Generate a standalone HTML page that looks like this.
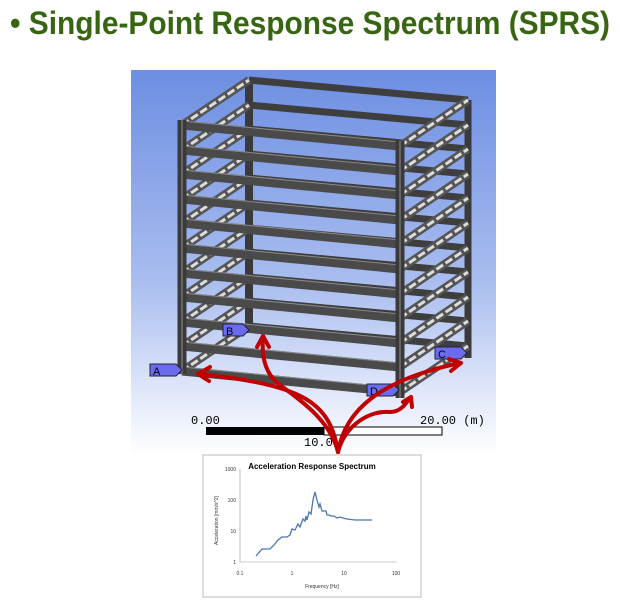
<!DOCTYPE html>
<html><head><style>body{margin:0;background:#fff;width:620px;height:604px;overflow:hidden}</style></head>
<body>
<svg width="620" height="604" xmlns="http://www.w3.org/2000/svg">
<defs>
<linearGradient id="bg" x1="0" y1="0" x2="0" y2="1">
<stop offset="0" stop-color="#6d8ee2"/><stop offset="0.55" stop-color="#a9bdef"/><stop offset="1" stop-color="#ffffff"/>
</linearGradient>
</defs>
<text x="10" y="34" font-family="Liberation Sans, sans-serif" font-weight="bold" font-size="32" fill="#376512" textLength="600" lengthAdjust="spacingAndGlyphs">• Single-Point Response Spectrum (SPRS)</text>
<rect x="131" y="70" width="365" height="385" fill="url(#bg)"/>
<g fill="none">
<line x1="249" y1="80" x2="249" y2="333" stroke="#3a3a3a" stroke-width="8"/>
<line x1="468" y1="100" x2="468" y2="358" stroke="#3a3a3a" stroke-width="7"/>
<path stroke="#3e3e3e" stroke-width="7" d="M249,80L468,100 M249,105L468,125 M249,129L468,149 M249,154L468,174 M249,178L468,198 M249,203L468,223 M249,228L468,248 M249,252L468,272 M249,277L468,297 M249,301L468,321 M249,326L468,346"/>
<path stroke="#555" stroke-width="8" d="M400,146L468,100 M400,171L468,125 M400,195L468,149 M400,220L468,174 M400,244L468,198 M400,269L468,223 M400,294L468,248 M400,318L468,272 M400,343L468,297 M400,367L468,321 M400,392L468,346"/>
<path stroke="#ddd" stroke-width="3" stroke-dasharray="8,3" d="M400,146L468,100 M400,171L468,125 M400,195L468,149 M400,220L468,174 M400,244L468,198 M400,269L468,223 M400,294L468,248 M400,318L468,272 M400,343L468,297 M400,367L468,321 M400,392L468,346"/>
<path stroke="#555" stroke-width="8" d="M182,125L249,80 M182,150L249,105 M182,174L249,129 M182,199L249,154 M182,223L249,178 M182,248L249,203 M182,273L249,228 M182,297L249,252 M182,322L249,277 M182,346L249,301 M182,371L249,326"/>
<path stroke="#ddd" stroke-width="3" stroke-dasharray="8,3" d="M182,125L249,80 M182,150L249,105 M182,174L249,129 M182,199L249,154 M182,223L249,178 M182,248L249,203 M182,273L249,228 M182,297L249,252 M182,322L249,277 M182,346L249,301 M182,371L249,326"/>
<path stroke="#4a4a4a" stroke-width="9" d="M182,125L400,146 M182,150L400,171 M182,174L400,195 M182,199L400,220 M182,223L400,244 M182,248L400,269 M182,273L400,294 M182,297L400,318 M182,322L400,343 M182,346L400,367 M182,371L400,392"/>
<path stroke="#888" stroke-width="1" d="M182,121L400,142 M182,146L400,167 M182,170L400,191 M182,195L400,216 M182,219L400,240 M182,244L400,265 M182,269L400,290 M182,293L400,314 M182,318L400,339 M182,342L400,363 M182,367L400,388"/>
<line x1="182" y1="120" x2="182" y2="374" stroke="#3a3a3a" stroke-width="9"/>
<line x1="182" y1="120" x2="182" y2="374" stroke="#666" stroke-width="2"/>
<line x1="400" y1="141" x2="400" y2="398" stroke="#3a3a3a" stroke-width="9"/>
<line x1="400" y1="141" x2="400" y2="398" stroke="#666" stroke-width="2"/>
</g>
<g font-family="Liberation Sans, sans-serif" font-size="11" fill="#000">
<path d="M150,364 h26 l6,6 l-6,6 h-26z" fill="#6b6bf0" stroke="#223"/><text x="153" y="375">A</text>
<path d="M223,324 h20 l6,6 l-6,6 h-20z" fill="#6b6bf0" stroke="#223"/><text x="226" y="335">B</text>
<path d="M435,347 h26 l6,6 l-6,6 h-26z" fill="#6b6bf0" stroke="#223"/><text x="438" y="358">C</text>
<path d="M367,384 h26 l6,6 l-6,6 h-26z" fill="#6b6bf0" stroke="#223"/><text x="370" y="395">D</text>
</g>
<rect x="206" y="427" width="118" height="8" fill="#000"/>
<rect x="324" y="427" width="118" height="8" fill="#fff" stroke="#000" stroke-width="1"/>
<g font-family="Liberation Mono, monospace" font-size="12" fill="#000">
<text x="191" y="424">0.00</text><text x="420" y="424">20.00 (m)</text><text x="304" y="446">10.0</text>
</g>
<g fill="none" stroke="#c00000" stroke-width="4" stroke-linecap="round" stroke-linejoin="round">
<path d="M338,452 C330,400 300,385 200,374"/>
<path d="M198,374 l12,-7 M198,374 l11,7"/>
<path d="M338,452 C330,420 300,400 280,385 C262,372 262,350 263,337"/>
<path d="M263,336 l-6,11 M263,336 l6,11"/>
<path d="M338,452 C345,410 380,380 460,363"/>
<path d="M461,363 l-12,-4 M461,363 l-10,8"/>
<path d="M338,452 C345,425 370,410 390,412 C400,412 405,405 410,398"/>
<path d="M411,397 l-8,5 M411,397 l1,10"/>
</g>
<rect x="203" y="455" width="218" height="142" fill="#fff" stroke="#bbb"/>
<text x="312" y="469" text-anchor="middle" font-family="Liberation Sans, sans-serif" font-size="8" font-weight="bold">Acceleration Response  Spectrum</text>
<g stroke="#999" stroke-width="0.6"><line x1="240" y1="469" x2="240" y2="562"/><line x1="240" y1="562" x2="397" y2="562"/></g>
<g font-family="Liberation Sans, sans-serif" font-size="5" fill="#333">
<text x="236" y="471" text-anchor="end">1000</text><text x="236" y="502" text-anchor="end">100</text><text x="236" y="533" text-anchor="end">10</text><text x="236" y="564" text-anchor="end">1</text>
<text x="240" y="575" text-anchor="middle">0.1</text><text x="292" y="575" text-anchor="middle">1</text><text x="344" y="575" text-anchor="middle">10</text><text x="396" y="575" text-anchor="middle">100</text>
<text x="305" y="588" font-size="5">Frequency [Hz]</text>
<text transform="translate(218,545) rotate(-90)" font-size="5">Acceleration [mm/s^2]</text>
</g>
<polyline fill="none" stroke="#4a76b0" stroke-width="1.3" points="256,556 262,549 266,549 270,549 274,545 278,540 282,537 287,537 290,535 292,529 295,530 298,524 300,527 303,519 305,521 306,516 307,520 309,512 311,514 313,500 315,492 317,500 319,507 320,504 322,511 324,511 326,511 327,515 329,515 331,516 334,516 337,518 340,517 343,518 347,519 355,520 372,520"/>
</svg>
</body></html>
